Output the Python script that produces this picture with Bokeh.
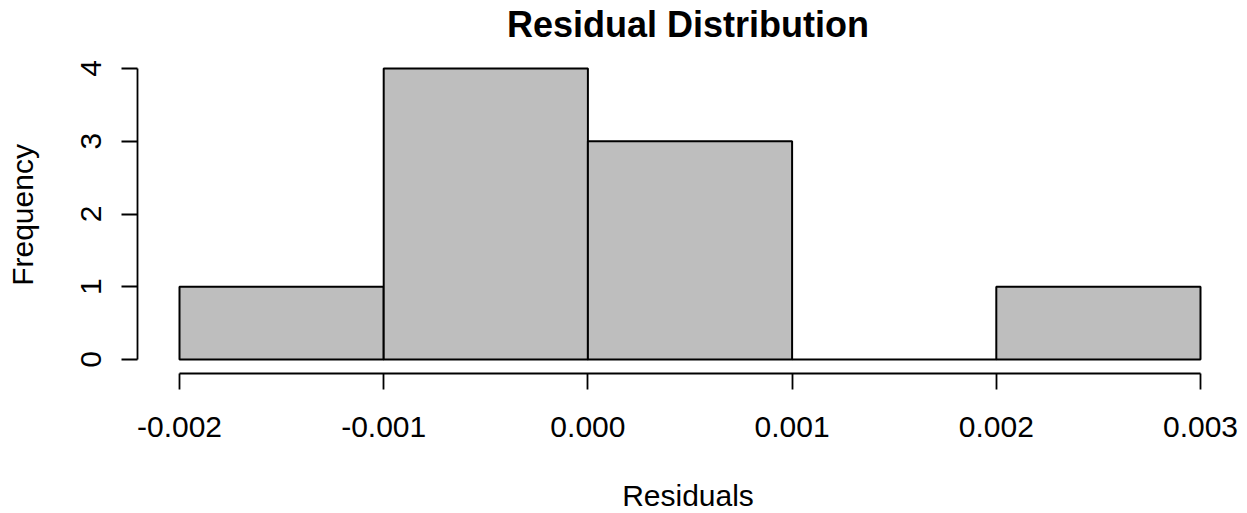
from bokeh.plotting import figure
from bokeh.models import FixedTicker, Range1d, PrintfTickFormatter, ColumnDataSource, LinearAxis
from bokeh.embed import file_html
from bokeh.resources import INLINE

# Histogram data
bin_left = [-0.002, -0.001, 0.000, 0.001, 0.002]
bin_right = [-0.001, 0.000, 0.001, 0.002, 0.003]
counts = [1, 4, 3, 0, 1]
x_ticks = [-0.002, -0.001, 0.000, 0.001, 0.002, 0.003]
y_ticks = [0, 1, 2, 3, 4]
title_text = "Residual Distribution"
x_title = "Residuals"
y_title = "Frequency"

FONT = "Liberation Sans"

src = ColumnDataSource(dict(left=bin_left, right=bin_right, top=counts,
                            bottom=[0] * len(counts)))

p = figure(output_backend="svg", toolbar_location=None,
           frame_width=1101, frame_height=317,
           min_border_left=137, min_border_right=0,
           min_border_top=56, min_border_bottom=120,
           x_range=Range1d(-0.0022057, 0.0031861),
           y_range=Range1d(-0.192, 4.165))

p.quad(left="left", right="right", top="top", bottom="bottom", source=src,
       fill_color="#BEBEBE", line_color="black", line_width=2)

p.outline_line_color = None
p.xgrid.visible = False
p.ygrid.visible = False
p.background_fill_color = "white"
p.border_fill_color = "white"

for ax in (p.xaxis[0], p.yaxis[0]):
    ax.axis_line_color = "black"
    ax.axis_line_width = 1.8
    ax.major_tick_line_color = "black"
    ax.major_tick_line_width = 1.8
    ax.major_tick_in = 0
    ax.major_tick_out = 16
    ax.minor_tick_line_color = None
    ax.major_label_text_font = FONT
    ax.major_label_text_font_size = "30px"
    ax.major_label_text_color = "black"
    ax.axis_label_text_font = FONT
    ax.axis_label_text_font_size = "30px"
    ax.axis_label_text_font_style = "normal"
    ax.axis_label_text_color = "black"

xa = p.xaxis[0]
xa.ticker = FixedTicker(ticks=x_ticks)
xa.formatter = PrintfTickFormatter(format="%.3f")
xa.bounds = (x_ticks[0], x_ticks[-1])
xa.major_label_standoff = 27
xa.axis_label = x_title
xa.axis_label_standoff = 39

ya = p.yaxis[0]
ya.ticker = FixedTicker(ticks=y_ticks)
ya.bounds = (y_ticks[0], y_ticks[-1])
ya.major_label_orientation = "parallel"
ya.major_label_standoff = 20
ya.axis_label = y_title
ya.axis_label_standoff = 40

# Main title carried by a bare axis above the frame
top_axis = LinearAxis(ticker=FixedTicker(ticks=[]), axis_line_color=None,
                      major_tick_line_color=None, minor_tick_line_color=None,
                      major_tick_in=0, major_tick_out=0, major_label_standoff=0,
                      axis_label=title_text, axis_label_standoff=12,
                      axis_label_text_font=FONT, axis_label_text_font_size="36px",
                      axis_label_text_font_style="bold", axis_label_text_color="black")
p.add_layout(top_axis, "above")

open("out.html", "w").write(file_html(p, INLINE))
